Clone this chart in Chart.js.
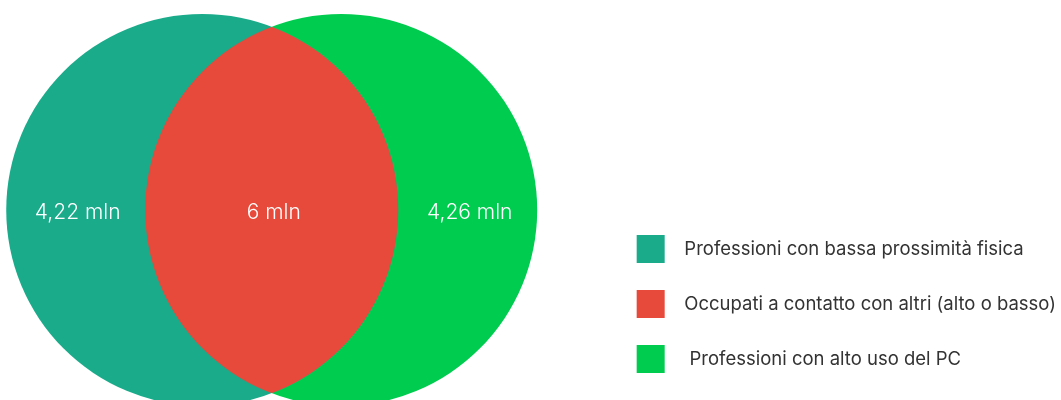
<!DOCTYPE html>
<html>
<head>
<meta charset="utf-8">
<script src="https://cdn.jsdelivr.net/npm/chart.js@4/dist/chart.umd.min.js"></script>
<style>
  html, body { margin: 0; padding: 0; background: #ffffff; }
  #wrap { width: 1061px; height: 400px; position: relative; }
</style>
</head>
<body>
<div id="wrap"><canvas id="c" width="1061" height="400"></canvas></div>
<script>
// ---- Data ----
const categories = [
  'Professioni con bassa prossimità fisica',
  'Occupati a contatto con altri (alto o basso)',
  'Professioni con alto uso del PC'
];
const values = [4.22, 6, 4.26];          // milioni di occupati: solo A, A∩B, solo B
const unit = 'mln';

// ---- Styles / layout (not data) ----
const colors = ['#1aab8b', '#e74a3a', '#00cc50'];
const venn = { ax: 203, bx: 342.5, cy: 210, r: 196 };  // in scale units

const fmt = v => v.toLocaleString('it-IT', { maximumFractionDigits: 2 }) + ' ' + unit;

const vennPlugin = {
  id: 'venn',
  afterDatasetsDraw(chart) {
    const { ctx, scales: { x, y } } = chart;
    const ax = x.getPixelForValue(venn.ax);
    const bx = x.getPixelForValue(venn.bx);
    const cy = y.getPixelForValue(venn.cy);
    const r = venn.r;
    // intersection lens
    ctx.save();
    ctx.beginPath();
    ctx.arc(ax, cy, r, 0, Math.PI * 2);
    ctx.clip();
    ctx.beginPath();
    ctx.arc(bx, cy, r, 0, Math.PI * 2);
    ctx.fillStyle = colors[1];
    ctx.fill();
    ctx.restore();
    // region labels
    const centers = [
      ((ax - r) + (bx - r)) / 2,
      ((bx - r) + (ax + r)) / 2,
      ((ax + r) + (bx + r)) / 2
    ];
    ctx.save();
    ctx.fillStyle = '#ffffff';
    ctx.font = '300 21px Inter, "Noto Sans", sans-serif';
    ctx.textAlign = 'center';
    ctx.textBaseline = 'middle';
    values.forEach((v, i) => ctx.fillText(fmt(v), centers[i] + 2, cy + 3));
    ctx.restore();
  }
};

const legendText = ['  ' + categories[0], '  ' + categories[1], '   ' + categories[2]];

new Chart(document.getElementById('c'), {
  type: 'bubble',
  data: {
    datasets: [
      { label: legendText[0], data: [{ x: venn.ax, y: venn.cy, r: venn.r }], backgroundColor: colors[0], borderWidth: 0 },
      { label: legendText[1], data: [{ x: (venn.ax + venn.bx) / 2, y: venn.cy, r: 0 }], backgroundColor: colors[1], borderWidth: 0 },
      { label: legendText[2], data: [{ x: venn.bx, y: venn.cy, r: venn.r }], backgroundColor: colors[2], borderWidth: 0 }
    ]
  },
  options: {
    responsive: false,
    animation: false,
    events: [],
    layout: { padding: { left: 0, top: 0, bottom: 0, right: -5 }, autoPadding: false },
    clip: false,
    scales: {
      x: { display: false, min: 0, max: 612 },
      y: { display: false, min: 0, max: 400, reverse: true }
    },
    plugins: {
      tooltip: { enabled: false },
      legend: {
        position: 'right',
        align: 'end',
        labels: {
          boxWidth: 28,
          boxHeight: 28,
          padding: 27,
          color: '#333333',
          font: { family: 'Inter, "Noto Sans", sans-serif', size: 18.5 }
        }
      }
    }
  },
  plugins: [vennPlugin]
});
</script>
</body>
</html>
